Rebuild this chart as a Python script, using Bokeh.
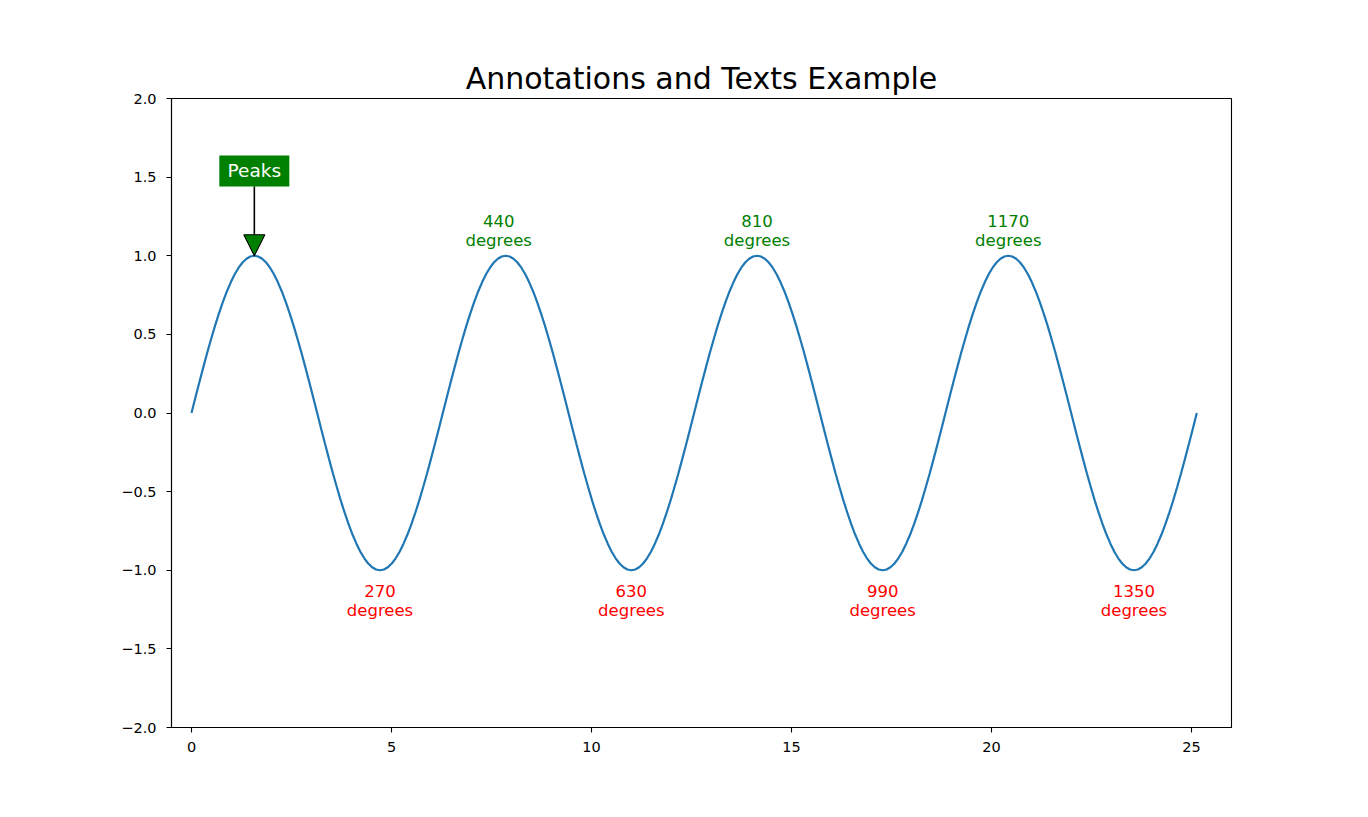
import numpy as np
from bokeh.plotting import figure
from bokeh.models import Range1d, FixedTicker, Arrow, NormalHead, ColumnDataSource
from bokeh.core.properties import value
from bokeh.embed import file_html
from bokeh.resources import INLINE

FONT = "DejaVu Sans"

# sine curve samples (one sample every 5.625 degrees, 0 .. 1440 degrees)
wave_y = [
    0.0, 0.098, 0.195, 0.290, 0.383, 0.471, 0.556, 0.634, 0.707, 0.773, 0.831, 0.882, 0.924, 0.957, 0.981, 0.995,
    1.0, 0.995, 0.981, 0.957, 0.924, 0.882, 0.831, 0.773, 0.707, 0.634, 0.556, 0.471, 0.383, 0.290, 0.195, 0.098,
    0.0, -0.098, -0.195, -0.290, -0.383, -0.471, -0.556, -0.634, -0.707, -0.773, -0.831, -0.882, -0.924, -0.957, -0.981, -0.995,
    -1.0, -0.995, -0.981, -0.957, -0.924, -0.882, -0.831, -0.773, -0.707, -0.634, -0.556, -0.471, -0.383, -0.290, -0.195, -0.098,
    0.0, 0.098, 0.195, 0.290, 0.383, 0.471, 0.556, 0.634, 0.707, 0.773, 0.831, 0.882, 0.924, 0.957, 0.981, 0.995,
    1.0, 0.995, 0.981, 0.957, 0.924, 0.882, 0.831, 0.773, 0.707, 0.634, 0.556, 0.471, 0.383, 0.290, 0.195, 0.098,
    0.0, -0.098, -0.195, -0.290, -0.383, -0.471, -0.556, -0.634, -0.707, -0.773, -0.831, -0.882, -0.924, -0.957, -0.981, -0.995,
    -1.0, -0.995, -0.981, -0.957, -0.924, -0.882, -0.831, -0.773, -0.707, -0.634, -0.556, -0.471, -0.383, -0.290, -0.195, -0.098,
    0.0, 0.098, 0.195, 0.290, 0.383, 0.471, 0.556, 0.634, 0.707, 0.773, 0.831, 0.882, 0.924, 0.957, 0.981, 0.995,
    1.0, 0.995, 0.981, 0.957, 0.924, 0.882, 0.831, 0.773, 0.707, 0.634, 0.556, 0.471, 0.383, 0.290, 0.195, 0.098,
    0.0, -0.098, -0.195, -0.290, -0.383, -0.471, -0.556, -0.634, -0.707, -0.773, -0.831, -0.882, -0.924, -0.957, -0.981, -0.995,
    -1.0, -0.995, -0.981, -0.957, -0.924, -0.882, -0.831, -0.773, -0.707, -0.634, -0.556, -0.471, -0.383, -0.290, -0.195, -0.098,
    0.0, 0.098, 0.195, 0.290, 0.383, 0.471, 0.556, 0.634, 0.707, 0.773, 0.831, 0.882, 0.924, 0.957, 0.981, 0.995,
    1.0, 0.995, 0.981, 0.957, 0.924, 0.882, 0.831, 0.773, 0.707, 0.634, 0.556, 0.471, 0.383, 0.290, 0.195, 0.098,
    0.0, -0.098, -0.195, -0.290, -0.383, -0.471, -0.556, -0.634, -0.707, -0.773, -0.831, -0.882, -0.924, -0.957, -0.981, -0.995,
    -1.0, -0.995, -0.981, -0.957, -0.924, -0.882, -0.831, -0.773, -0.707, -0.634, -0.556, -0.471, -0.383, -0.290, -0.195, -0.098,
    0.0,
]
wave_x_end = 8 * np.pi

# text labels (angle in degrees, placed at that angle in radians)
peak_degrees = [440, 810, 1170]
trough_degrees = [270, 630, 990, 1350]
peak_level = 1.0
trough_level = -1.0

annot_text = "Peaks"
annot_xy = (np.pi / 2, 1.0)
annot_text_xy = (np.pi / 2, 1.5)

x_ticks = [0, 5, 10, 15, 20, 25]
y_ticks = [-2.0, -1.5, -1.0, -0.5, 0.0, 0.5, 1.0, 1.5, 2.0]
title_text = "Annotations and Texts Example"

wave_x = np.linspace(0, wave_x_end, len(wave_y))

p = figure(
    frame_width=1060, frame_height=629,
    min_border_left=171, min_border_right=129, min_border_top=98, min_border_bottom=73,
    x_range=Range1d(-0.5, 26), y_range=Range1d(-2.0, 2.0),
    output_backend="svg", toolbar_location=None, title=title_text,
)
p.background_fill_color = "white"
p.border_fill_color = "white"
p.outline_line_color = "black"
p.outline_line_width = 1.1
p.outline_line_alpha = 1.0
p.grid.visible = False

p.title.text_font = FONT
p.title.text_font_size = "30px"
p.title.text_font_style = "normal"
p.title.align = "center"
p.title.text_color = "black"
p.title.standoff = 6

for ax in (p.xaxis[0], p.yaxis[0]):
    ax.axis_line_color = "black"
    ax.axis_line_width = 1.1
    ax.major_tick_line_color = "black"
    ax.major_tick_line_width = 1.1
    ax.major_tick_out = 5
    ax.major_tick_in = 0
    ax.minor_tick_line_color = None
    ax.major_label_text_font = FONT
    ax.major_label_text_font_size = "14.5px"
    ax.major_label_text_color = "black"

p.xaxis[0].ticker = FixedTicker(ticks=x_ticks)
p.xaxis[0].major_label_overrides = {t: str(t) for t in x_ticks}
p.xaxis[0].major_label_standoff = 9
p.yaxis[0].ticker = FixedTicker(ticks=y_ticks)
p.yaxis[0].major_label_overrides = {t: f"{t:.1f}".replace("-", "\u2212") for t in y_ticks}
p.yaxis[0].major_label_standoff = 10

p.line(wave_x, wave_y, line_color="#1f77b4", line_width=2.2)

LIFT = -6.5  # screen correction for baseline placement

# green labels above the peaks
gx = [np.deg2rad(d) for d in peak_degrees]
gsrc = ColumnDataSource(dict(x=gx, y=[peak_level] * len(gx),
                             n=[str(d) for d in peak_degrees], w=["degrees"] * len(gx)))
p.text(x="x", y="y", text="n", source=gsrc, text_align="center", text_baseline="alphabetic",
       y_offset=-28.5 + LIFT, text_color="green", text_font=value(FONT), text_font_size="16.5px")
p.text(x="x", y="y", text="w", source=gsrc, text_align="center", text_baseline="alphabetic",
       y_offset=-8.5 + LIFT, text_color="green", text_font=value(FONT), text_font_size="16.5px")

# red labels below the troughs
rx = [np.deg2rad(d) for d in trough_degrees]
rsrc = ColumnDataSource(dict(x=rx, y=[trough_level] * len(rx),
                             n=[str(d) for d in trough_degrees], w=["degrees"] * len(rx)))
p.text(x="x", y="y", text="n", source=rsrc, text_align="center", text_baseline="alphabetic",
       y_offset=27.5 + LIFT, text_color="red", text_font=value(FONT), text_font_size="16.5px")
p.text(x="x", y="y", text="w", source=rsrc, text_align="center", text_baseline="alphabetic",
       y_offset=47.0 + LIFT, text_color="red", text_font=value(FONT), text_font_size="16.5px")

# "Peaks" annotation box + arrow
box_center_y = annot_text_xy[1] + 6.2 / 157.25
box_bottom_y = annot_text_xy[1] - 9.3 / 157.25
p.rect(x=[annot_text_xy[0]], y=[box_center_y], width=70, height=31,
       width_units="screen", height_units="screen", fill_color="green", line_color=None)
p.text(x=[annot_text_xy[0]], y=[annot_text_xy[1]], text=[annot_text], text_align="center",
       text_baseline="alphabetic", y_offset=LIFT, text_color="white",
       text_font=value(FONT), text_font_size="18.5px")
p.add_layout(Arrow(
    end=NormalHead(size=21, fill_color="green", line_color="black", line_width=1.1),
    x_start=annot_xy[0], y_start=box_bottom_y, x_end=annot_xy[0], y_end=annot_xy[1],
    line_color="black", line_width=1.6,
))

open("out.html", "w").write(file_html(p, INLINE))
